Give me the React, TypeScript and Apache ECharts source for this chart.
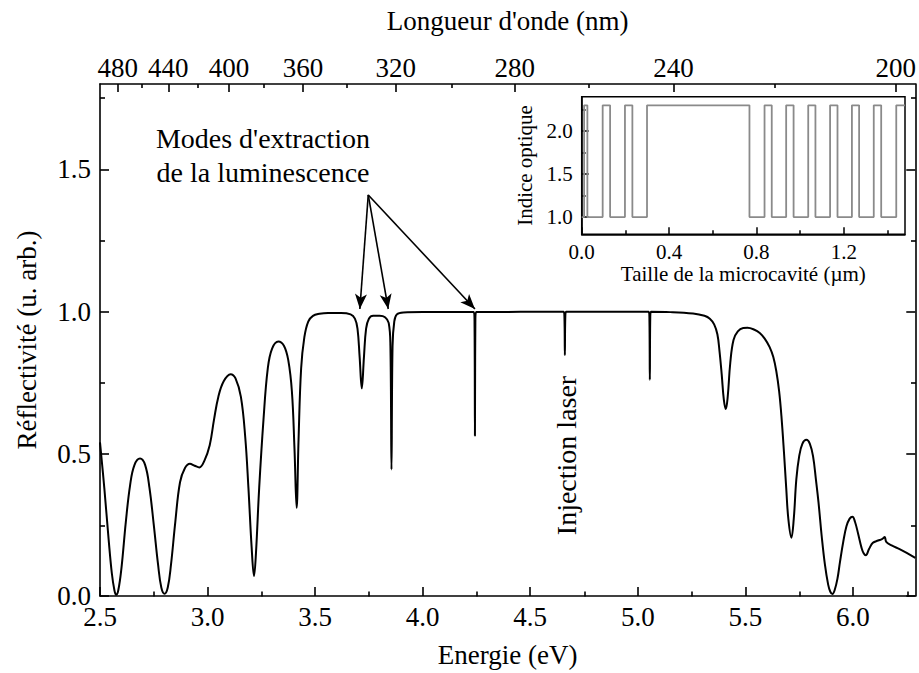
import React, { useEffect, useRef } from "react";
import * as echarts from "echarts";

// ---- data ----
const HC = 1239.84; // eV·nm

const energy = [
  2.5, 2.52, 2.54, 2.555, 2.567, 2.575, 2.585, 2.6, 2.62, 2.64, 2.66, 2.686, 2.71, 2.73, 2.75, 2.77, 2.785, 2.8, 2.815,
  2.83, 2.85, 2.872, 2.895, 2.918, 2.94, 2.962, 2.985, 3.01, 3.03, 3.05, 3.075, 3.107, 3.13, 3.155, 3.175, 3.19, 3.205,
  3.216, 3.225, 3.24, 3.26, 3.28, 3.3, 3.329, 3.355, 3.375, 3.392, 3.404, 3.414, 3.423, 3.435, 3.45, 3.468, 3.49, 3.52,
  3.56, 3.62, 3.665, 3.685, 3.697, 3.707, 3.717, 3.727, 3.737, 3.75, 3.77, 3.8, 3.825, 3.842, 3.85, 3.855, 3.86, 3.868,
  3.88, 3.91, 4.0, 4.237, 4.241, 4.243, 4.245, 4.249, 4.655, 4.659, 4.661, 4.663, 4.667, 5.05, 5.054, 5.056, 5.058,
  5.062, 5.15, 5.257, 5.31, 5.335, 5.355, 5.37, 5.38, 5.39, 5.4, 5.409, 5.418, 5.43, 5.445, 5.465, 5.49, 5.51, 5.54,
  5.567, 5.59, 5.613, 5.63, 5.644, 5.657, 5.668, 5.68, 5.69, 5.7, 5.714, 5.725, 5.737, 5.75, 5.765, 5.784, 5.8, 5.815,
  5.828, 5.84, 5.855, 5.87, 5.885, 5.895, 5.905, 5.915, 5.928, 5.94, 5.955, 5.97, 5.985, 5.998, 6.01, 6.024, 6.04, 6.05,
  6.06, 6.075, 6.093, 6.117, 6.135, 6.148, 6.155, 6.18, 6.217, 6.25, 6.29,
];
const reflectivity = [
  0.54, 0.38, 0.2, 0.08, 0.02, 0.004, 0.02, 0.1, 0.26, 0.39, 0.46, 0.483, 0.46, 0.38, 0.25, 0.11, 0.03, 0.008, 0.03,
  0.11, 0.26, 0.4, 0.45, 0.465, 0.458, 0.452, 0.475, 0.53, 0.62, 0.7, 0.755, 0.78, 0.765, 0.7, 0.56, 0.38, 0.17,
  0.07, 0.15, 0.38, 0.62, 0.8, 0.87, 0.895, 0.88, 0.83, 0.72, 0.52, 0.31, 0.55, 0.8, 0.91, 0.965, 0.985, 0.992,
  0.995, 0.995, 0.99, 0.975, 0.94, 0.84, 0.73, 0.84, 0.94, 0.975, 0.985, 0.985, 0.98, 0.96, 0.88, 0.445, 0.88, 0.965,
  0.99, 0.997, 0.998, 0.998, 0.97, 0.563, 0.97, 0.998, 0.999, 0.98, 0.847, 0.98, 0.999, 0.999, 0.98, 0.76, 0.98,
  0.999, 0.998, 0.993, 0.985, 0.975, 0.955, 0.92, 0.86, 0.78, 0.69, 0.657, 0.7, 0.82, 0.9, 0.93, 0.942, 0.943, 0.937,
  0.925, 0.905, 0.875, 0.84, 0.79, 0.72, 0.63, 0.5, 0.38, 0.27, 0.205, 0.27, 0.41, 0.49, 0.535, 0.549, 0.535, 0.49,
  0.41, 0.33, 0.21, 0.11, 0.04, 0.015, 0.007, 0.02, 0.06, 0.12, 0.19, 0.245, 0.272, 0.279, 0.26, 0.22, 0.17, 0.15,
  0.143, 0.165, 0.187, 0.195, 0.2, 0.207, 0.19, 0.178, 0.165, 0.152, 0.134,
];

const energyMajorTicks = [2.5, 3.0, 3.5, 4.0, 4.5, 5.0, 5.5, 6.0];
const energyMinorTicks = [2.75, 3.25, 3.75, 4.25, 4.75, 5.25, 5.75, 6.25];
const wavelengthMajorTicks = [480, 440, 400, 360, 320, 280, 240, 200];
const wavelengthMinorTicks = [460, 420, 380, 340, 300, 260, 220];
const reflMajorTicks = [0, 0.5, 1.0, 1.5];
const reflMinorTicks = [0.25, 0.75, 1.25, 1.75];

// arrows: origin and tips (eV, reflectivity)
const arrowOrigin = [3.747, 1.41];
const arrowTips = [
  [3.708, 1.009],
  [3.84, 1.009],
  [4.243, 1.009],
];

// inset: refractive-index profile of the microcavity
const layerBoundaries = [
  0, 0.011, 0.026, 0.096, 0.13, 0.198, 0.232, 0.299, 0.768, 0.837, 0.87, 0.936, 0.97, 1.037, 1.07, 1.137, 1.171,
  1.237, 1.27, 1.337, 1.371, 1.44, 1.48,
];
const layerIndex = [
  1.0, 2.3, 1.0, 2.3, 1.0, 2.3, 1.0, 2.3, 1.0, 2.3, 1.0, 2.3, 1.0, 2.3, 1.0, 2.3, 1.0, 2.3, 1.0, 2.3, 1.0, 2.3,
];
const insetXMajorTicks = [0, 0.4, 0.8, 1.2];
const insetXMinorTicks = [0.2, 0.6, 1.0, 1.4];
const insetYMajorTicks = [1.0, 1.5, 2.0];
const insetYMinorTicks = [1.25, 1.75, 2.25];

// ---- styling ----
const FONT = "serif";
const BLACK = "#000";
const AXIS_W = 1.6;

const X_MIN = 2.5;
const X_MAX = 6.29;
const Y_MIN = 0;
const Y_MAX = 1.8;

function tickAxis(extra: any) {
  return {
    type: "value",
    splitLine: { show: false },
    axisLine: { show: true, onZero: false, lineStyle: { color: BLACK, width: AXIS_W } },
    ...extra,
  };
}

function buildOption() {
  const mainData = energy.map((e, i) => [e, reflectivity[i]]);
  const insetData: number[][] = [];
  for (let i = 0; i < layerIndex.length; i++) {
    insetData.push([layerBoundaries[i], layerIndex[i]]);
    insetData.push([layerBoundaries[i + 1], layerIndex[i]]);
  }
  const wlMajorE = wavelengthMajorTicks.map((w) => HC / w);
  const wlMinorE = wavelengthMinorTicks.map((w) => HC / w);

  const tickStyle = { color: BLACK, width: AXIS_W };
  const labelStyle = (size: number) => ({ fontFamily: FONT, fontSize: size, color: BLACK });

  return {
    animation: false,
    backgroundColor: "#fff",
    grid: [
      { left: 100, top: 84, right: 3, bottom: 76.5, show: false },
      { left: 100, top: 84, right: 3, bottom: 76.5, show: false },
      { left: 581.7, top: 96.7, width: 323.3, height: 137.6, show: true, borderColor: BLACK, borderWidth: 1.5, backgroundColor: "transparent" },
      { left: 581.7, top: 96.7, width: 323.3, height: 137.6, show: false },
    ],
    xAxis: [
      tickAxis({
        gridIndex: 0,
        position: "bottom",
        min: X_MIN,
        max: X_MAX,
        axisTick: { show: true, inside: true, length: 9, customValues: energyMajorTicks, lineStyle: tickStyle },
        axisLabel: { ...labelStyle(27), margin: 7, customValues: energyMajorTicks, formatter: (v: number) => v.toFixed(1) },
        name: "Energie (eV)",
        nameLocation: "middle",
        nameGap: 45,
        nameTextStyle: labelStyle(27),
      }),
      tickAxis({
        gridIndex: 0,
        position: "top",
        min: X_MIN,
        max: X_MAX,
        axisTick: { show: true, inside: true, length: 8, customValues: wlMajorE, lineStyle: tickStyle },
        axisLabel: { ...labelStyle(27), margin: 3, customValues: wlMajorE, formatter: (v: number) => String(Math.round(HC / v)) },
        name: "Longueur d'onde (nm)",
        nameLocation: "middle",
        nameGap: 50,
        nameTextStyle: labelStyle(27),
      }),
      tickAxis({
        gridIndex: 1,
        position: "bottom",
        min: X_MIN,
        max: X_MAX,
        axisLine: { show: false, onZero: false },
        axisTick: { show: true, inside: true, length: 5, customValues: energyMinorTicks, lineStyle: tickStyle },
        axisLabel: { show: false },
      }),
      tickAxis({
        gridIndex: 1,
        position: "top",
        min: X_MIN,
        max: X_MAX,
        axisLine: { show: false, onZero: false },
        axisTick: { show: true, inside: true, length: 4, customValues: wlMinorE, lineStyle: tickStyle },
        axisLabel: { show: false },
      }),
      tickAxis({
        gridIndex: 2,
        position: "bottom",
        min: 0,
        max: 1.48,
        axisLine: { show: true, onZero: false, lineStyle: { color: BLACK, width: 1.5 } },
        axisTick: { show: true, inside: true, length: 7, customValues: insetXMajorTicks, lineStyle: { color: BLACK, width: 1.5 } },
        axisLabel: { ...labelStyle(21), margin: 7, customValues: insetXMajorTicks, formatter: (v: number) => v.toFixed(1) },
        name: "Taille de la microcavité (µm)",
        nameLocation: "middle",
        nameGap: 29,
        nameTextStyle: labelStyle(21),
      }),
      tickAxis({
        gridIndex: 3,
        position: "bottom",
        min: 0,
        max: 1.48,
        axisLine: { show: false, onZero: false },
        axisTick: { show: true, inside: true, length: 4, customValues: insetXMinorTicks, lineStyle: { color: BLACK, width: 1.5 } },
        axisLabel: { show: false },
      }),
    ],
    yAxis: [
      tickAxis({
        gridIndex: 0,
        position: "left",
        min: Y_MIN,
        max: Y_MAX,
        axisTick: { show: true, inside: true, length: 9, customValues: reflMajorTicks, lineStyle: tickStyle },
        axisLabel: { ...labelStyle(27), margin: 9, customValues: reflMajorTicks, formatter: (v: number) => v.toFixed(1) },
        name: "Réflectivité (u. arb.)",
        nameLocation: "middle",
        nameGap: 60,
        nameTextStyle: labelStyle(27),
      }),
      tickAxis({
        gridIndex: 0,
        position: "right",
        min: Y_MIN,
        max: Y_MAX,
        axisTick: { show: true, inside: true, length: 9, customValues: reflMajorTicks, lineStyle: tickStyle },
        axisLabel: { show: false },
      }),
      tickAxis({
        gridIndex: 1,
        position: "left",
        min: Y_MIN,
        max: Y_MAX,
        axisLine: { show: false, onZero: false },
        axisTick: { show: true, inside: true, length: 5, customValues: reflMinorTicks, lineStyle: tickStyle },
        axisLabel: { show: false },
      }),
      tickAxis({
        gridIndex: 1,
        position: "right",
        min: Y_MIN,
        max: Y_MAX,
        axisLine: { show: false, onZero: false },
        axisTick: { show: true, inside: true, length: 5, customValues: reflMinorTicks, lineStyle: tickStyle },
        axisLabel: { show: false },
      }),
      tickAxis({
        gridIndex: 2,
        position: "left",
        min: 0.8,
        max: 2.4,
        axisLine: { show: true, onZero: false, lineStyle: { color: BLACK, width: 1.5 } },
        axisTick: { show: true, inside: true, length: 7, customValues: insetYMajorTicks, lineStyle: { color: BLACK, width: 1.5 } },
        axisLabel: { ...labelStyle(21), margin: 9, customValues: insetYMajorTicks, formatter: (v: number) => v.toFixed(1) },
        name: "Indice optique",
        nameLocation: "middle",
        nameGap: 46,
        nameTextStyle: labelStyle(21),
      }),
      tickAxis({
        gridIndex: 3,
        position: "left",
        min: 0.8,
        max: 2.4,
        axisLine: { show: false, onZero: false },
        axisTick: { show: true, inside: true, length: 4, customValues: insetYMinorTicks, lineStyle: { color: BLACK, width: 1.5 } },
        axisLabel: { show: false },
      }),
    ],
    series: [
      {
        name: "Réflectivité",
        type: "line",
        xAxisIndex: 0,
        yAxisIndex: 0,
        data: mainData,
        symbol: "none",
        showSymbol: false,
        smooth: 0.4,
        lineStyle: { color: BLACK, width: 2 },
        silent: true,
        markLine: {
          silent: true,
          symbol: ["none", "arrow"],
          symbolSize: [9, 15],
          label: { show: false },
          lineStyle: { color: BLACK, width: 1.6, type: "solid" },
          emphasis: { disabled: true },
          data: arrowTips.map((t) => [{ coord: arrowOrigin }, { coord: t }]),
        },
      },
      {
        name: "Indice optique",
        type: "line",
        xAxisIndex: 4,
        yAxisIndex: 4,
        data: insetData,
        symbol: "none",
        showSymbol: false,
        lineStyle: { color: "#8a8a8a", width: 1.8 },
        silent: true,
      },
    ],
    graphic: [
      {
        type: "text",
        x: 263,
        y: 138,
        silent: true,
        style: {
          text: "Modes d'extraction",
          fontFamily: FONT,
          fontSize: 28,
          fill: BLACK,
          align: "center",
          verticalAlign: "middle",
        },
      },
      {
        type: "text",
        x: 263,
        y: 172,
        silent: true,
        style: {
          text: "de la luminescence",
          fontFamily: FONT,
          fontSize: 28,
          fill: BLACK,
          align: "center",
          verticalAlign: "middle",
        },
      },
      {
        type: "text",
        x: 566.7,
        y: 455.5,
        rotation: Math.PI / 2,
        silent: true,
        style: {
          text: "Injection laser",
          fontFamily: FONT,
          fontSize: 28,
          fill: BLACK,
          align: "center",
          verticalAlign: "middle",
        },
      },
    ],
  };
}

export default function App() {
  const ref = useRef<HTMLDivElement>(null);
  useEffect(() => {
    document.body.style.margin = "0";
    if (!ref.current) return;
    const chart = echarts.init(ref.current, null, { renderer: "svg" });
    chart.setOption(buildOption() as any);
    return () => chart.dispose();
  }, []);
  return <div ref={ref} style={{ width: 919, height: 673, background: "#fff" }} />;
}
